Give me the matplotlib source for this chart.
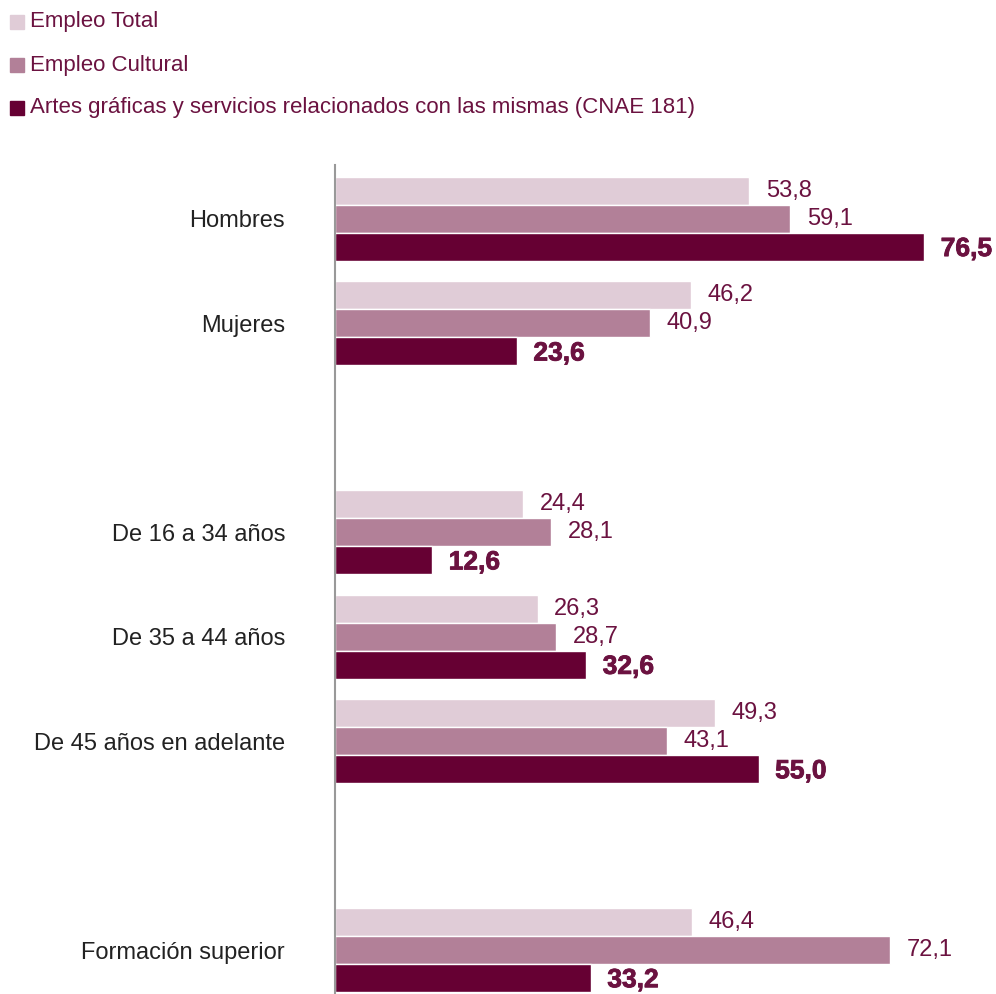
import numpy as np
import matplotlib
matplotlib.use("Agg")
import matplotlib.pyplot as plt
import matplotlib.patheffects as pe

plt.rcParams['font.family'] = ['Liberation Sans', 'DejaVu Sans']

categories = ["Hombres", "Mujeres", "De 16 a 34 años", "De 35 a 44 años",
              "De 45 años en adelante", "Formación superior"]
# slot of each category (empty slots separate the blocks)
slots = [0, 1, 3, 4, 5, 7]

series_names = ["Empleo Total", "Empleo Cultural",
                "Artes gráficas y servicios relacionados con las mismas (CNAE 181)"]
empleo_total = [53.8, 46.2, 24.4, 26.3, 49.3, 46.4]
empleo_cultural = [59.1, 40.9, 28.1, 28.7, 43.1, 72.1]
artes_graficas = [76.5, 23.6, 12.6, 32.6, 55.0, 33.2]

colors = ["#E0CCD7", "#B28098", "#660033"]
text_color = "#6B1240"

fig = plt.figure(figsize=(9.96, 9.94), dpi=100)
ax = fig.add_axes([335 / 996, 0, 1 - 335 / 996, 1 - 165 / 994])

h = 0.268
pos = np.array(slots, dtype=float)
heavy = [pe.withStroke(linewidth=0.6, foreground=text_color)]
for i, (vals, c) in enumerate(zip([empleo_total, empleo_cultural, artes_graficas], colors)):
    y = pos + (i - 1) * h
    ax.barh(y, vals, height=h, color=c, edgecolor="white", linewidth=1)
    for yy, v in zip(y, vals):
        lbl = f"{v:.1f}".replace(".", ",")
        if i == 2:
            ax.annotate(lbl, (v, yy), xytext=(12, -1.5), textcoords="offset points",
                        va="center", ha="left", fontsize=19, fontweight="bold",
                        color=text_color, path_effects=heavy)
        else:
            ax.annotate(lbl, (v, yy), xytext=(12, 0), textcoords="offset points",
                        va="center", ha="left", fontsize=17, color=text_color)

ax.set_xlim(0, (996 - 335) / 7.70)
ax.set_ylim(7.42, -0.517)
ax.set_yticks(pos)
ax.set_yticklabels(categories, fontsize=17, color="#222222")
ax.tick_params(axis="y", length=0, pad=36)
ax.set_xticks([])
for s in ["top", "right", "bottom"]:
    ax.spines[s].set_visible(False)
ax.spines["left"].set_color("#999999")
ax.spines["left"].set_linewidth(1.5)

# legend drawn as squares + text at the top left
for k, (name, c) in enumerate(zip(series_names, colors)):
    yf = 1 - (22 + 43 * k) / 994
    fig.patches.append(plt.Rectangle((10 / 996, yf - 7 / 994), 14 / 996, 14 / 994,
                                     transform=fig.transFigure, color=c))
    fig.text(30 / 996, yf, name, fontsize=16, color=text_color, va="center", ha="left")

fig.savefig("out.png", dpi=100)
